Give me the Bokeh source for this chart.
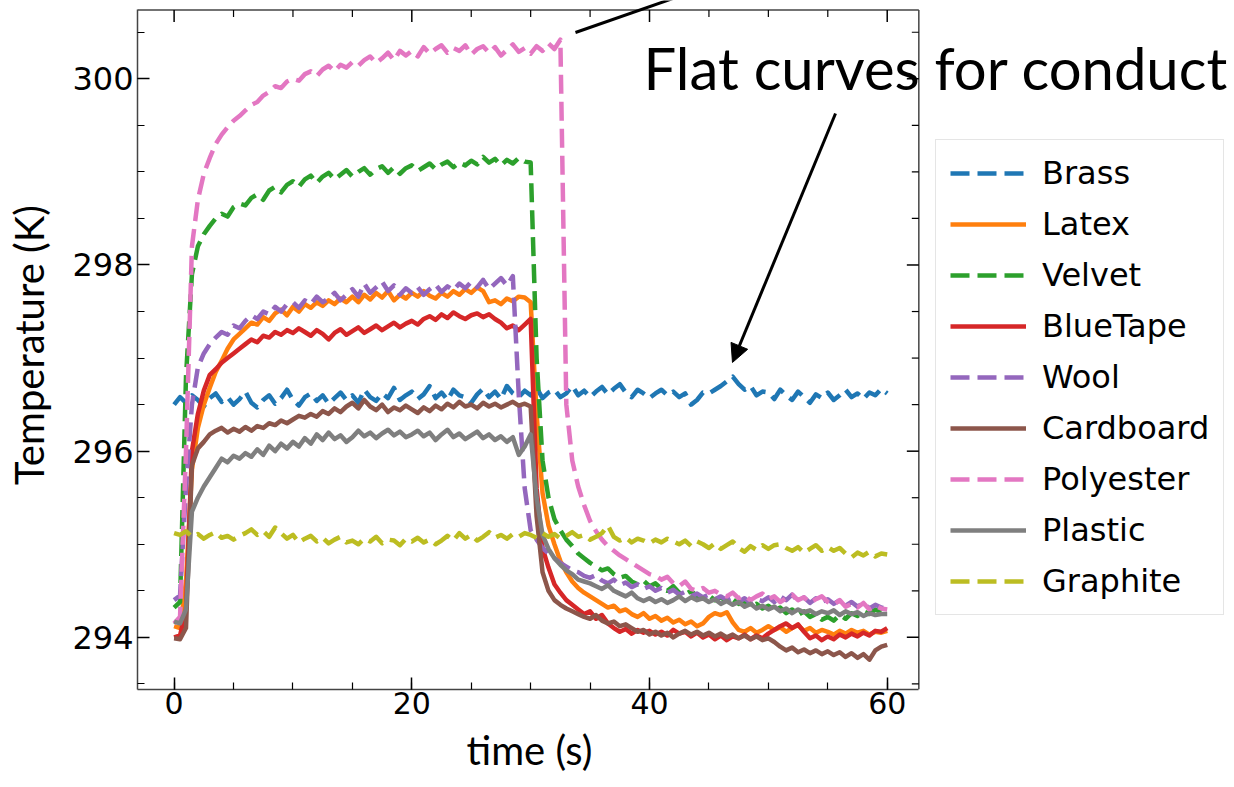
from bokeh.plotting import figure
from bokeh.models import (Range1d, SingleIntervalTicker, Legend,
                          LegendItem, Label, Arrow, NormalHead, Title)
from bokeh.embed import file_html
from bokeh.resources import INLINE

# ---------------- data ----------------
time_s = [i * 0.5 for i in range(121)]   # sample grid, 0 .. 60 s

brass = [
    296.50, 296.58, 296.52, 296.60, 296.55, 296.48, 296.57, 296.62, 296.53, 296.58,
    296.50, 296.56, 296.64, 296.52, 296.47, 296.55, 296.60, 296.51, 296.57, 296.66,
    296.55, 296.49, 296.58, 296.62, 296.54, 296.60, 296.51, 296.57, 296.63, 296.55,
    296.60, 296.52, 296.66, 296.58, 296.54, 296.62, 296.57, 296.68, 296.55, 296.60,
    296.64, 296.56, 296.61, 296.70, 296.57, 296.63, 296.55, 296.66, 296.60, 296.58,
    296.52, 296.61, 296.67, 296.58, 296.64, 296.56, 296.70, 296.62, 296.58, 296.65,
    296.60, 296.68, 296.57, 296.63, 296.66, 296.58, 296.62, 296.70, 296.60, 296.65,
    296.58, 296.64, 296.69, 296.61, 296.67, 296.72, 296.63, 296.58, 296.66, 296.62,
    296.57, 296.62, 296.66, 296.60, 296.64, 296.58, 296.62, 296.50, 296.55, 296.63,
    296.62, 296.66, 296.70, 296.75, 296.80, 296.72, 296.66, 296.70, 296.60, 296.64,
    296.63, 296.56, 296.66, 296.60, 296.55, 296.64, 296.58, 296.52, 296.61, 296.57,
    296.63, 296.55, 296.60, 296.66, 296.58, 296.62, 296.56, 296.63, 296.60, 296.67,
    296.62]

latex = [
    294.12, 294.10, 294.60, 295.80, 296.25, 296.50, 296.68, 296.85, 296.97, 297.10,
    297.20, 297.26, 297.32, 297.38, 297.36, 297.44, 297.40, 297.48, 297.52, 297.46,
    297.55, 297.50, 297.58, 297.54, 297.60, 297.56, 297.62, 297.58, 297.64, 297.60,
    297.66, 297.60, 297.68, 297.63, 297.70, 297.65, 297.72, 297.62, 297.68, 297.64,
    297.70, 297.66, 297.72, 297.67, 297.64, 297.70, 297.66, 297.72, 297.68, 297.74,
    297.70, 297.76, 297.72, 297.60, 297.62, 297.58, 297.64, 297.61, 297.66, 297.65,
    297.60, 296.40, 295.55, 295.20, 295.00, 294.82, 294.70, 294.60, 294.53, 294.48,
    294.44, 294.40, 294.36, 294.32, 294.34, 294.28, 294.30, 294.25, 294.22, 294.26,
    294.20, 294.23, 294.18, 294.21, 294.16, 294.19, 294.14, 294.17, 294.12, 294.15,
    294.22, 294.26, 294.24, 294.27, 294.16, 294.08, 294.06, 294.10, 294.05, 294.08,
    294.12, 294.08, 294.11, 294.06, 294.10, 294.13, 294.07, 294.10, 294.05, 294.08,
    294.06, 294.03, 294.07, 294.04, 294.08, 294.05, 294.07, 294.03, 294.06, 294.05,
    294.07]

velvet = [
    294.32, 294.38, 296.80, 297.90, 298.20, 298.33, 298.42, 298.50, 298.55, 298.52,
    298.62, 298.66, 298.64, 298.72, 298.76, 298.70, 298.80, 298.84, 298.78, 298.86,
    298.90, 298.84, 298.92, 298.96, 298.88, 298.95, 298.99, 298.92, 298.97, 299.02,
    298.95, 299.00, 299.04, 298.97, 299.03, 299.06, 298.99, 299.05, 298.98, 299.04,
    299.07, 299.01, 299.05, 299.09, 299.03, 299.08, 299.11, 299.05, 299.10, 299.07,
    299.12, 299.08, 299.16, 299.10, 299.14, 299.07, 299.13, 299.09, 299.15, 299.11,
    299.10, 297.00, 295.90, 295.50, 295.27, 295.15, 295.05, 294.98, 294.90, 294.85,
    294.80, 294.76, 294.72, 294.74, 294.68, 294.64, 294.66, 294.60, 294.57, 294.61,
    294.55, 294.58, 294.52, 294.50, 294.55, 294.48, 294.46, 294.50, 294.44, 294.42,
    294.45, 294.40, 294.43, 294.38, 294.41, 294.36, 294.39, 294.33, 294.36, 294.31,
    294.34, 294.29, 294.32, 294.26, 294.30, 294.24, 294.28, 294.22, 294.25, 294.19,
    294.22, 294.18, 294.24, 294.20, 294.26, 294.23, 294.28, 294.25, 294.30, 294.27,
    294.30]

blue_tape = [
    294.00, 294.02, 294.30, 296.00, 296.40, 296.65, 296.82, 296.88, 296.95, 297.00,
    297.05, 297.10, 297.15, 297.20, 297.17, 297.24, 297.22, 297.28, 297.25, 297.30,
    297.27, 297.32, 297.28, 297.24, 297.30, 297.26, 297.20, 297.27, 297.31, 297.25,
    297.29, 297.33, 297.27, 297.31, 297.35, 297.30, 297.34, 297.38, 297.33, 297.37,
    297.40, 297.36, 297.42, 297.45, 297.41, 297.47, 297.43, 297.49, 297.45, 297.42,
    297.46, 297.48, 297.44, 297.47, 297.42, 297.38, 297.32, 297.35, 297.30, 297.36,
    297.42, 295.60, 294.96, 294.75, 294.57, 294.48, 294.40, 294.35, 294.30, 294.25,
    294.28, 294.20, 294.24, 294.15, 294.10, 294.06, 294.09, 294.04, 294.08, 294.05,
    294.07, 294.03, 294.06, 294.02, 294.08, 294.04, 294.06, 294.01, 294.05, 294.00,
    294.03, 293.98, 294.02, 293.97, 294.01, 293.99, 294.03, 293.98, 294.02, 293.99,
    294.04, 294.08, 294.12, 294.15, 294.10, 294.14, 294.06, 293.99, 294.02, 293.97,
    294.01, 293.98, 294.03, 294.00, 294.04, 294.01, 294.05, 294.02, 294.07, 294.06,
    294.10]

wool = [
    294.40, 294.45, 295.60, 296.50, 296.90, 297.05, 297.15, 297.22, 297.28, 297.25,
    297.35, 297.32, 297.40, 297.46, 297.42, 297.50, 297.47, 297.55, 297.50, 297.58,
    297.60, 297.54, 297.62, 297.58, 297.66, 297.60, 297.64, 297.70, 297.62, 297.68,
    297.74, 297.66, 297.80, 297.70, 297.76, 297.82, 297.72, 297.78, 297.68, 297.75,
    297.70, 297.76, 297.68, 297.74, 297.79, 297.71, 297.77, 297.73, 297.80, 297.75,
    297.82, 297.76, 297.84, 297.74, 297.80, 297.86, 297.78, 297.88, 296.60, 295.60,
    295.15, 295.05, 294.96, 294.90, 294.85, 294.80, 294.76, 294.72, 294.70, 294.66,
    294.64, 294.67, 294.61, 294.58, 294.62, 294.56, 294.59, 294.54, 294.57, 294.52,
    294.55, 294.50, 294.53, 294.48, 294.51, 294.46, 294.49, 294.44, 294.47, 294.43,
    294.46, 294.41, 294.44, 294.40, 294.43, 294.38, 294.42, 294.37, 294.41, 294.39,
    294.43, 294.38, 294.44, 294.40, 294.46, 294.39, 294.43, 294.37, 294.42, 294.38,
    294.41, 294.36, 294.40, 294.34, 294.38, 294.33, 294.37, 294.31, 294.35, 294.32,
    294.31]

cardboard = [
    293.99, 293.98, 294.10, 295.85, 296.03, 296.10, 296.18, 296.22, 296.25, 296.20,
    296.24, 296.21, 296.26, 296.22, 296.27, 296.25, 296.30, 296.28, 296.33, 296.30,
    296.34, 296.38, 296.36, 296.40, 296.37, 296.43, 296.40, 296.46, 296.42, 296.48,
    296.52, 296.46, 296.55, 296.48, 296.44, 296.50, 296.42, 296.47, 296.44, 296.49,
    296.45, 296.41, 296.47, 296.43, 296.49, 296.45, 296.51, 296.47, 296.53, 296.48,
    296.50, 296.46, 296.52, 296.48, 296.51, 296.47, 296.50, 296.53, 296.49, 296.51,
    296.48, 295.30, 294.70, 294.50, 294.40, 294.35, 294.31, 294.28, 294.25, 294.22,
    294.20, 294.24, 294.18, 294.15, 294.17, 294.12, 294.14, 294.10, 294.06, 294.08,
    294.03, 294.06, 294.02, 294.05, 294.00, 294.04, 294.07, 294.03, 294.06, 294.02,
    294.05, 294.01, 294.04, 294.00, 294.03, 293.99, 294.02, 293.98, 294.01, 293.97,
    293.99, 293.95, 293.90, 293.86, 293.89, 293.84, 293.87, 293.83, 293.86, 293.82,
    293.85, 293.81, 293.84, 293.79, 293.83, 293.78, 293.82, 293.76, 293.86, 293.90,
    293.92]

polyester = [
    294.15, 294.22, 296.00, 298.20, 298.70, 298.98, 299.15, 299.30, 299.40, 299.48,
    299.55, 299.60, 299.66, 299.72, 299.75, 299.82, 299.86, 299.92, 299.90, 299.97,
    300.00, 299.98, 300.05, 300.08, 300.03, 300.10, 300.14, 300.08, 300.15, 300.12,
    300.18, 300.14, 300.20, 300.24, 300.17, 300.22, 300.28, 300.20, 300.30, 300.25,
    300.30, 300.24, 300.34, 300.27, 300.32, 300.36, 300.28, 300.33, 300.30, 300.36,
    300.26, 300.32, 300.35, 300.28, 300.34, 300.25, 300.31, 300.37, 300.29, 300.33,
    300.27, 300.35, 300.30, 300.38, 300.32, 300.42, 296.50, 295.90, 295.62, 295.42,
    295.25, 295.14, 295.05, 294.98, 294.93, 294.88, 294.84, 294.80, 294.76, 294.72,
    294.68, 294.66, 294.62, 294.65, 294.58, 294.55, 294.60, 294.52, 294.50, 294.53,
    294.48, 294.50, 294.46, 294.44, 294.48, 294.42, 294.45, 294.40, 294.44, 294.47,
    294.41, 294.44, 294.38, 294.42, 294.46, 294.40, 294.43, 294.37, 294.41, 294.44,
    294.38, 294.35, 294.40, 294.33, 294.36, 294.32, 294.37, 294.30, 294.34, 294.31,
    294.30]

plastic = [
    294.17, 294.15, 294.30, 295.35, 295.50, 295.62, 295.72, 295.82, 295.92, 295.88,
    295.95, 295.92, 295.98, 295.94, 296.02, 295.96, 296.06, 296.00, 296.08, 296.03,
    296.10, 296.05, 296.14, 296.08, 296.18, 296.12, 296.20, 296.13, 296.17, 296.10,
    296.15, 296.22, 296.16, 296.20, 296.14, 296.19, 296.23, 296.17, 296.21, 296.15,
    296.18, 296.22, 296.16, 296.20, 296.12, 296.18, 296.23, 296.15, 296.19, 296.13,
    296.17, 296.21, 296.14, 296.18, 296.12, 296.16, 296.10, 296.15, 295.96, 296.05,
    296.18, 295.50, 295.10, 294.95, 294.85, 294.78, 294.72, 294.68, 294.62, 294.60,
    294.58, 294.55, 294.52, 294.56, 294.50, 294.47, 294.44, 294.48, 294.42, 294.39,
    294.42, 294.38, 294.41, 294.37, 294.40, 294.44, 294.39, 294.43, 294.40, 294.42,
    294.38, 294.41, 294.36, 294.39, 294.35, 294.38, 294.33, 294.36, 294.31, 294.34,
    294.30, 294.33, 294.28, 294.31, 294.26, 294.30, 294.27, 294.29, 294.25, 294.28,
    294.26, 294.29, 294.24, 294.28, 294.25, 294.27, 294.23, 294.26, 294.24, 294.25,
    294.25]

graphite = [
    295.12, 295.10, 295.14, 295.08, 295.11, 295.06, 295.10, 295.13, 295.07, 295.09,
    295.05, 295.09, 295.12, 295.16, 295.10, 295.14, 295.08, 295.18, 295.12, 295.06,
    295.10, 295.02, 295.06, 295.09, 295.03, 295.07, 295.01, 295.05, 295.08, 295.02,
    295.04, 295.00, 295.06, 295.03, 295.08, 295.01, 295.05, 295.04, 294.99, 295.06,
    295.03, 295.07, 295.02, 295.05, 295.00, 295.04, 295.09, 295.04, 295.12, 295.06,
    295.10, 295.04, 295.08, 295.13, 295.07, 295.10, 295.06, 295.11, 295.08, 295.12,
    295.10, 295.07, 295.12, 295.08, 295.11, 295.06, 295.09, 295.13, 295.08, 295.10,
    295.05, 295.08, 295.12, 295.20, 295.08, 295.04, 295.07, 295.02, 295.06, 295.04,
    295.01, 295.05, 295.02, 295.06, 295.03, 295.00, 295.04, 294.98, 295.03, 295.00,
    294.96, 295.01, 294.95, 294.99, 295.03, 294.96, 294.92, 294.98, 294.94, 294.99,
    294.95, 294.99, 295.00, 294.96, 294.93, 294.97, 294.91, 294.95, 294.99, 294.93,
    294.97, 294.93, 294.96, 294.90, 294.86, 294.91, 294.88, 294.92, 294.87, 294.90,
    294.89]

materials = ["Brass", "Latex", "Velvet", "BlueTape", "Wool",
             "Cardboard", "Polyester", "Plastic", "Graphite"]
series = [brass, latex, velvet, blue_tape, wool, cardboard, polyester, plastic, graphite]
colors = ["#1f77b4", "#ff7f0e", "#2ca02c", "#d62728", "#9467bd",
          "#8c564b", "#e377c2", "#7f7f7f", "#bcbd22"]
dashed = [True, False, True, False, True, False, True, False, True]

x_major_ticks = [0, 20, 40, 60]
x_minor_ticks = [5, 10, 15, 25, 30, 35, 45, 50, 55]
y_major_ticks = [294, 296, 298, 300]
y_minor_ticks = [293.5, 294.5, 295, 295.5, 296.5, 297, 297.5, 298.5, 299, 299.5, 300.5]

x_label = "time (s)"
y_label = "Temperature (K)"
annotation_text = "Flat curves for conduct"

for name, s in zip(materials, series):
    assert len(s) == len(time_s), (name, len(s))

# ---------------- geometry ----------------
W, H = 1234, 787
BORDER_LEFT, BORDER_BOTTOM = 137, 98
# axes box (the matplotlib-like "axes" area) in data units
AX_X0, AX_X1 = -3.08, 62.66
AX_Y0, AX_Y1 = 293.44, 300.74
# the Bokeh frame extends to the right and top canvas edges so that
# the legend and the annotation can sit outside the axes box
X_END = 89.22
Y_END = 300.841
px_per_x = (W - BORDER_LEFT) / (X_END - AX_X0)
px_per_y = (H - BORDER_BOTTOM) / (Y_END - AX_Y0)

p = figure(width=W, height=H, output_backend="svg", toolbar_location=None,
           x_range=Range1d(AX_X0, X_END), y_range=Range1d(AX_Y0, Y_END),
           min_border_left=BORDER_LEFT, min_border_right=0, min_border_top=0,
           min_border_bottom=BORDER_BOTTOM)
p.grid.visible = False
p.outline_line_color = None
p.background_fill_color = "white"
p.border_fill_color = "white"

AX_COLOR = "#444444"
MAJ, MIN = 12, 7

for ax in (p.xaxis[0], p.yaxis[0]):
    ax.axis_line_color = AX_COLOR
    ax.axis_line_width = 1.5
    ax.major_tick_line_color = "black"
    ax.minor_tick_line_color = "black"
    ax.major_tick_line_width = 1.5
    ax.minor_tick_line_width = 1.2
    ax.major_tick_in = MAJ
    ax.major_tick_out = 0
    ax.minor_tick_in = MIN
    ax.minor_tick_out = 0
    ax.major_label_text_font = "DejaVu Sans"
    ax.major_label_text_color = "black"
    ax.axis_label_text_font = "Lato"
    ax.axis_label_text_font_size = "40px"
    ax.axis_label_text_font_style = "normal"
    ax.axis_label_text_color = "black"

p.xaxis.ticker = SingleIntervalTicker(interval=20, num_minor_ticks=4)
p.yaxis.ticker = SingleIntervalTicker(interval=2, num_minor_ticks=4)
p.xaxis.bounds = (AX_X0, AX_X1)
p.yaxis.bounds = (AX_Y0, AX_Y1)
p.yaxis.axis_label = y_label
p.xaxis.major_label_text_font_size = "30px"
p.yaxis.major_label_text_font_size = "32px"
p.xaxis.major_label_standoff = 2
p.yaxis.major_label_standoff = 4
p.yaxis.axis_label_standoff = 16

# x-axis title, centred under the axes box (not under the whole frame)
p.add_layout(Title(text=x_label, align="left", offset=329, standoff=14,
                   text_line_height=0.75,
                   text_font="Lato", text_font_size="40px",
                   text_font_style="normal", text_color="black"), "below")

# top and right spines with inward ticks
p.segment(x0=[AX_X0], y0=[AX_Y1], x1=[AX_X1], y1=[AX_Y1],
          line_color=AX_COLOR, line_width=1.5)
p.segment(x0=[AX_X1], y0=[AX_Y0], x1=[AX_X1], y1=[AX_Y1],
          line_color=AX_COLOR, line_width=1.5)
p.segment(x0=x_major_ticks, y0=[AX_Y1] * len(x_major_ticks),
          x1=x_major_ticks, y1=[AX_Y1 - MAJ / px_per_y] * len(x_major_ticks),
          line_color="black", line_width=1.5)
p.segment(x0=x_minor_ticks, y0=[AX_Y1] * len(x_minor_ticks),
          x1=x_minor_ticks, y1=[AX_Y1 - MIN / px_per_y] * len(x_minor_ticks),
          line_color="black", line_width=1.2)
p.segment(x0=[AX_X1] * len(y_major_ticks), y0=y_major_ticks,
          x1=[AX_X1 - MAJ / px_per_x] * len(y_major_ticks), y1=y_major_ticks,
          line_color="black", line_width=1.5)
p.segment(x0=[AX_X1] * len(y_minor_ticks), y0=y_minor_ticks,
          x1=[AX_X1 - MIN / px_per_x] * len(y_minor_ticks), y1=y_minor_ticks,
          line_color="black", line_width=1.2)

items = []
for name, s, c, d in zip(materials, series, colors, dashed):
    r = p.line(time_s, s, line_color=c, line_width=4.5, line_join="round",
               line_dash="19 8" if d else "solid")
    items.append(LegendItem(label=name, renderers=[r]))

legend = Legend(items=items, location=(798, 74))
legend.label_text_font = "DejaVu Sans"
legend.label_text_font_size = "32px"
legend.label_text_color = "black"
legend.glyph_width = 76
legend.glyph_height = 38
legend.label_height = 38
legend.label_standoff = 16
legend.spacing = 13
legend.padding = 14
legend.margin = 0
legend.border_line_color = "#cccccc"
legend.border_line_width = 1.5
legend.background_fill_alpha = 0.8
p.add_layout(legend)

# ---------------- annotations ----------------
p.add_layout(Label(x=39.50, y=300.12, text=annotation_text, text_font="Lato",
                   text_font_size="58px", text_color="black",
                   text_align="left", text_baseline="alphabetic"))
p.add_layout(Arrow(end=NormalHead(size=18, fill_color="black", line_color="black"),
                   x_start=55.65, y_start=299.627, x_end=46.98, y_end=296.953,
                   line_width=3, line_color="black"))
p.add_layout(Arrow(end=None, x_start=33.77, y_start=300.497, x_end=43.71, y_end=300.94,
                   line_width=3, line_color="black"))

open("out.html", "w").write(file_html(p, INLINE))
